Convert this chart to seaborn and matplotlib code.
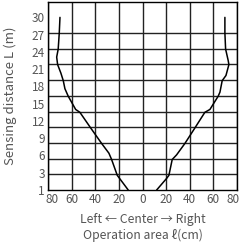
import numpy as np
import pandas as pd
import matplotlib
matplotlib.use("Agg")
import matplotlib.pyplot as plt
import matplotlib.ticker as mticker
import matplotlib.transforms as mtrans
import seaborn as sns

# sensing distance (m) and operation area (cm)
left_dist = [30, 27.3, 24.5, 23.1, 21.8, 20.3, 19.0, 17.6, 16.3, 14.0, 13.5, 10.8, 8.1, 6.4, 5.3, 2.7, 1]
left_area = [-70.1, -70.7, -71.6, -72.9, -72.1, -69.3, -67.3, -65.9, -63.1, -56.8, -53.2, -44.1, -34.8, -28.6, -26.3, -21.5, -12.2]
right_dist = [30, 27.3, 24.5, 22.5, 21.8, 19.9, 19.0, 17.0, 16.3, 14.0, 13.5, 10.8, 8.1, 6.1, 5.3, 2.7, 2.35, 1]
right_area = [69.8, 69.8, 70.4, 72.6, 73.2, 70.7, 67.5, 65.6, 64.1, 57.1, 52.8, 44.4, 35.9, 28.8, 25.1, 22.3, 20.4, 11.9]

y_ticks = [1, 3, 6, 9, 12, 15, 18, 21, 24, 27, 30]
x_ticks = [-80, -60, -40, -20, 0, 20, 40, 60, 80]

df = pd.concat([
    pd.DataFrame({"side": "left", "dist": left_dist, "area": left_area}),
    pd.DataFrame({"side": "right", "dist": right_dist, "area": right_area}),
])

sns.set_style("white")
plt.rcParams['font.family'] = ['Noto Sans CJK JP', 'DejaVu Sans']

# tick labels are evenly spaced: 1 -> 0, 3 -> 1, 6 -> 2 ... 30 -> 10
def fwd(v):
    v = np.asarray(v, dtype=float)
    return np.where(v <= 3, (v - 1) / 2, v / 3)

def inv(p):
    p = np.asarray(p, dtype=float)
    return np.where(p <= 1, 1 + 2 * p, 3 * p)

fig = plt.figure(figsize=(2.42, 2.52), dpi=100)
ax = fig.add_axes([0.1996, 0.246, 0.7794, 0.7473])

ax.set_yscale("function", functions=(fwd, inv))
sns.lineplot(data=df, x="area", y="dist", units="side", estimator=None,
             sort=False, color="black", linewidth=1.1, ax=ax)

top = inv(10 + 10 / 11)
ax.set_ylim(1, float(top))
ax.set_xlim(-80, 80)

# grid: 12 equal bands, independent of labels
grid_y = inv(np.arange(0, 12) * 10 / 11)
ax.set_yticks(grid_y, minor=True)
ax.set_yticks(y_ticks)
ax.set_yticklabels([str(t) for t in y_ticks])
ax.yaxis.set_minor_formatter(mticker.NullFormatter())
ax.set_xticks(x_ticks)
ax.set_xticklabels([str(abs(t)) for t in x_ticks])

ax.grid(False)
ax.grid(True, axis="y", which="minor", color="#222222", linewidth=1.0)
ax.grid(True, axis="x", which="major", color="#222222", linewidth=1.0)
ax.tick_params(axis="both", which="both", length=0, labelsize=8.5, labelcolor="#555555")
ax.tick_params(axis="y", pad=2.5)
ax.tick_params(axis="x", pad=2.5)

# nudge the two outer x labels inwards, as in the original
xl = ax.get_xticklabels()
for lab, dx in ((xl[0], 4), (xl[-1], -4)):
    lab.set_transform(lab.get_transform() + mtrans.ScaledTranslation(dx / 100, 0, fig.dpi_scale_trans))

for s in ax.spines.values():
    s.set_color("black")
    s.set_linewidth(1.0)

ax.set_xlabel("Left ← Center → Right\nOperation area ℓ(cm)", fontsize=8.8,
              color="#555555", linespacing=1.2, labelpad=5)
ax.set_ylabel("Sensing distance L (m)", fontsize=9.5, color="#555555")
ax.yaxis.set_label_coords(-0.165, 0.5)

fig.savefig("out.png", dpi=100)
